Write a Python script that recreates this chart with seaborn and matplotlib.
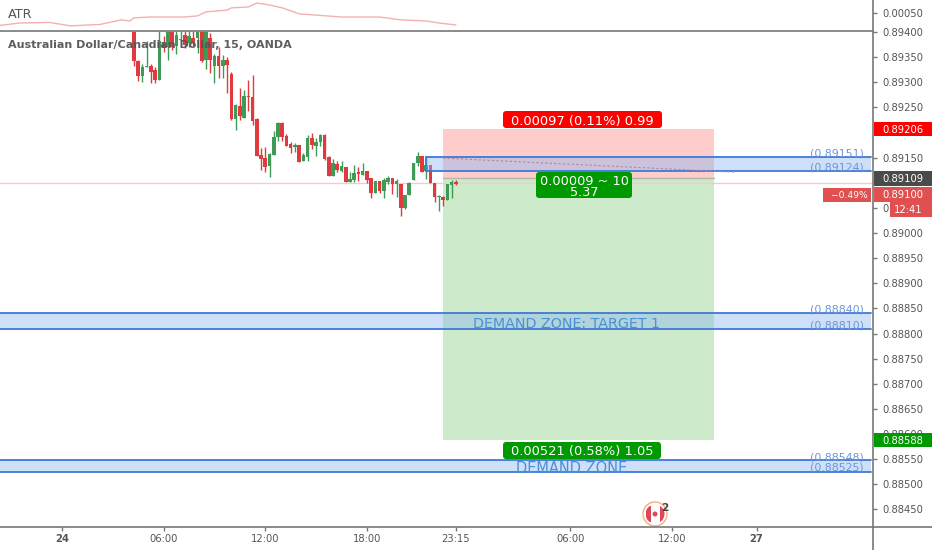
import pandas as pd
import numpy as np
import matplotlib
matplotlib.use('Agg')
import matplotlib.pyplot as plt
from matplotlib.patches import FancyBboxPatch, Rectangle, Circle
import seaborn as sns

# velas de 15 min, x = numero de vela desde las 00:00 del dia 24
first_bar = 17
opens = [89410, 89342, 89312, 89330, 89332, 89324, 89304, 89378, 89370, 89410, 89372, 89384, 89394, 89378, 89388, 89388,
         89410, 89344, 89388, 89332, 89352, 89332, 89344, 89316, 89227, 89253, 89229, 89272, 89270, 89227, 89155, 89149,
         89133, 89155, 89191, 89219, 89193, 89177, 89171, 89175, 89143, 89151, 89189, 89173, 89181, 89195, 89151, 89113,
         89137, 89123, 89131, 89101, 89105, 89121, 89115, 89123, 89109, 89080, 89103, 89083, 89101, 89109, 89097, 89097,
         89050, 89076, 89105, 89139, 89153, 89123, 89135, 89099, 89072, 89072, 89066, 89095, 89101]
highs = [89410, 89344, 89336, 89382, 89336, 89330, 89410, 89392, 89410, 89410, 89404, 89410, 89410, 89410, 89410, 89410,
         89410, 89410, 89398, 89356, 89370, 89354, 89350, 89320, 89257, 89288, 89284, 89304, 89314, 89229, 89169, 89171,
         89159, 89203, 89221, 89221, 89197, 89181, 89179, 89175, 89159, 89195, 89199, 89189, 89197, 89197, 89153, 89147,
         89143, 89143, 89131, 89121, 89135, 89131, 89139, 89123, 89109, 89103, 89103, 89109, 89113, 89109, 89107, 89097,
         89076, 89101, 89139, 89161, 89153, 89151, 89135, 89099, 89076, 89074, 89097, 89105, 89105]
lows = [89332, 89302, 89300, 89330, 89298, 89298, 89304, 89360, 89344, 89364, 89356, 89382, 89368, 89370, 89372, 89358,
        89340, 89326, 89318, 89298, 89308, 89308, 89278, 89225, 89205, 89225, 89229, 89243, 89215, 89153, 89125, 89121,
        89111, 89155, 89183, 89183, 89173, 89159, 89161, 89141, 89143, 89143, 89167, 89153, 89173, 89145, 89113, 89113,
        89121, 89121, 89101, 89101, 89101, 89103, 89115, 89099, 89070, 89080, 89080, 89070, 89097, 89078, 89072, 89034,
        89048, 89076, 89105, 89133, 89121, 89107, 89099, 89062, 89044, 89054, 89066, 89070, 89095]
closes = [89342, 89312, 89330, 89332, 89320, 89304, 89382, 89368, 89410, 89370, 89394, 89386, 89374, 89392, 89378, 89410,
          89342, 89410, 89344, 89352, 89332, 89344, 89334, 89227, 89255, 89233, 89272, 89270, 89223, 89153, 89147, 89131,
          89157, 89191, 89219, 89191, 89173, 89169, 89175, 89141, 89155, 89189, 89175, 89181, 89195, 89147, 89113, 89139,
          89125, 89133, 89101, 89107, 89119, 89117, 89123, 89105, 89080, 89103, 89083, 89105, 89109, 89097, 89103, 89050,
          89076, 89099, 89139, 89153, 89121, 89135, 89099, 89072, 89074, 89066, 89097, 89101, 89097]

# ATR
atr_bars = [-15, -10, -3, 2, 9, 14, 16, 17, 21, 29, 32, 34, 39, 40, 44, 46, 49, 52, 56, 66, 75, 80, 86, 89, 93]
atr_vals = [.000456, .000465, .000467, .000455, .00046, .000476, .000472, .000483, .000486, .000486, .00049, .000504,
            .00051, .000518, .000521, .000535, .000528, .000518, .000497, .000486, .000486, .000476, .000472, .000465,
            .000458]

# eje de tiempo y precios
time_ticks = [0, 24, 48, 72, 93, 120, 144, 164]
time_labels = ['24', '06:00', '12:00', '18:00', '23:15', '06:00', '12:00', '27']
price_ticks = [0.884 + 0.0005 * n for n in range(1, 21)]
# las que tapan las etiquetas de precio en el original
hidden_ticks = ['0.89100', '0.89200']

# zonas y posicion corta
zones = [(0.89151, 0.89124, 86), (0.88840, 0.88810, -15), (0.88548, 0.88525, -15)]
entry = 0.89109
stop = 0.89206
target = 0.88588
last_price = 0.89100
pos_start, pos_end = 90, 154
projection_bars = [90, 159]
projection_vals = [0.89149, 0.89121]

W, H = 932, 550
BAR = 4.235
AXIS_X = 873
X0 = 62
BLUE = '#3f78d8'
BLUE_TXT = '#6f94dc'
GREY = '#555555'
RED = '#e0393e'
GREEN = '#3d9b57'


def price_y(price):
    return 233 + (0.89 - price) * 50270


sns.set_theme(style='white')
plt.rcParams['font.family'] = ['DejaVu Sans']

fig = plt.figure(figsize=(W / 100, H / 100), dpi=100)
left, right = 0, AXIS_X / W
xlim = ((0 - X0) / BAR, (AXIS_X - X0) / BAR)

# panel ATR
ax_atr = fig.add_axes([left, 1 - 30.5 / H, right, 30.5 / H])
sns.lineplot(x=atr_bars, y=atr_vals, color='#f4b0b0', linewidth=1, ax=ax_atr)
ax_atr.set_xlim(xlim)
ax_atr.set_ylim(.0005 - 17.5 * 3.5e-6, .0005 + 13 * 3.5e-6)
ax_atr.yaxis.tick_right()
ax_atr.set_yticks([0.0005])
ax_atr.set_yticklabels(['0.00050'], fontsize=7.2, color=GREY)
ax_atr.set_xticks([])

# panel principal
ax = fig.add_axes([left, 1 - 527 / H, right, (527 - 30.5) / H])
ax.set_xlim(xlim)
ax.set_ylim(0.89 - (527 - 233) / 50270, 0.89 + (233 - 30.5) / 50270)

candles = pd.DataFrame({'bar': range(first_bar, first_bar + len(opens)),
                        'open': np.array(opens) / 1e5, 'high': np.array(highs) / 1e5,
                        'low': np.array(lows) / 1e5, 'close': np.array(closes) / 1e5})
candles['color'] = np.where(candles['close'] >= candles['open'], GREEN, RED)

# zona de riesgo / beneficio
ax.add_patch(Rectangle((pos_start, entry), pos_end - pos_start, stop - entry, color='#ffcccc', lw=0, zorder=1))
ax.add_patch(Rectangle((pos_start, target), pos_end - pos_start, entry - target, color='#cdeacb', lw=0, zorder=1))
ax.plot([pos_start, pos_end], [entry, entry], color='#b5b5a5', lw=1, zorder=2)
ax.axhline(last_price, color='#f6c8cf', lw=1, zorder=2)

ax.vlines(candles['bar'], candles['low'], candles['high'], colors=candles['color'], lw=1, zorder=3)
ax.bar(candles['bar'], (candles['close'] - candles['open']).abs().clip(lower=0.00002),
       bottom=candles[['open', 'close']].min(axis=1), width=0.85, color=candles['color'], lw=0, zorder=4)

# zonas azules
end = (871 - X0) / BAR
for top, bottom, start in zones:
    ax.add_patch(Rectangle((start, bottom), end - start, top - bottom,
                           facecolor='#8ab6f0', alpha=0.42, lw=0, zorder=5))
    ax.plot([start, end], [top, top], color=BLUE, lw=1.3, zorder=6)
    ax.plot([start, end], [bottom, bottom], color=BLUE, lw=1.3, zorder=6)
    ax.plot([start, start], [bottom, top], color=BLUE, lw=1.3, zorder=6)
ax.plot(projection_bars, projection_vals, color='#a88aa0', lw=0.8, ls=(0, (2, 2)), zorder=6)

ax.yaxis.tick_right()
ax.set_yticks(price_ticks)
tick_text = []
for p in price_ticks:
    s = f'{p:.5f}'
    if s in hidden_ticks:
        s = ''
    elif s == '0.89050':
        s = '0'  # el resto queda tapado por la cuenta atras
    tick_text.append(s)
ax.set_yticklabels(tick_text, fontsize=7.2, color=GREY)
ax.set_xticks(time_ticks)
ax.set_xticklabels(time_labels, fontsize=7.2, color=GREY)
for lab in ax.get_xticklabels():
    if lab.get_text() in ('24', '27'):
        lab.set_fontweight('bold')

for a in (ax, ax_atr):
    sns.despine(ax=a, left=True, top=True, right=True, bottom=True)
    a.tick_params(axis='y', length=3, width=1, color='#777777', pad=4, right=True)
ax.tick_params(axis='x', length=3, width=1, color='#777777', pad=2, bottom=True)

# capa de textos y etiquetas en pixeles
ov = fig.add_axes([0, 0, 1, 1], zorder=10)
ov.set_xlim(0, W)
ov.set_ylim(H, 0)
ov.axis('off')

ov.plot([0, AXIS_X], [30.5, 30.5], color='#8a8a8a', lw=1.4)
ov.plot([0, W], [527, 527], color='#777777', lw=1.2)
ov.plot([AXIS_X, AXIS_X], [0, H], color='#777777', lw=1.2)

ov.text(8, 14.5, 'ATR', fontsize=9.2, color=GREY, va='center')
ov.text(8, 45, 'Australian Dollar/Canadian Dollar, 15, OANDA', fontsize=8, fontweight='bold',
        color=GREY, va='center', alpha=0.95)


def badge(x0, x1, yc, h, txt, bg, rounded=False, size=7.2, tx=None):
    if rounded:
        ov.add_patch(FancyBboxPatch((x0 + 2, yc - h / 2 + 2), x1 - x0 - 4, h - 4,
                                    boxstyle='round,pad=2,rounding_size=3', fc=bg, ec='none'))
    else:
        ov.add_patch(Rectangle((x0, yc - h / 2), x1 - x0, h, fc=bg, ec='none'))
    ov.text((x0 + x1) / 2 if tx is None else tx, yc, txt, color='white', fontsize=size, ha='center',
            va='center_baseline')


badge(AXIS_X + 0.5, W, price_y(stop), 14, f'{stop:.5f}', '#ff0000', tx=903)
badge(AXIS_X + 0.5, W, price_y(entry), 15, f'{entry:.5f}', '#4a4a4a', tx=903)
badge(AXIS_X + 0.5, W, 194, 15, f'{last_price:.5f}', '#e05050', tx=903)
badge(823, 871, 195, 14, '\u22120.49%', '#e05050', size=6.6)
ov.texts[-1].set_x(849)
badge(890, W, 209, 15, '12:41', '#e05050', tx=908)
badge(AXIS_X + 0.5, W, price_y(target), 14, f'{target:.5f}', '#009900', tx=903)

badge(503, 662, 119.5, 17, '0.00097 (0.11%) 0.99', '#ff0000', rounded=True, size=9.4)
badge(536, 632, 185, 26, '0.00009 ~ 10', '#009900', rounded=True, size=9.3)
ov.texts[-1].set_y(180)
ov.text(584, 190.7, '5.37', color='white', fontsize=9.3, ha='center', va='center_baseline')
badge(503, 661, 450.5, 17, '0.00521 (0.58%) 1.05', '#009900', rounded=True, size=9.4)

# etiquetas de las zonas
for label, yc in zip(['(0.89151)', '(0.89124)', '(0.88840)', '(0.88810)', '(0.88548)', '(0.88525)'],
                     [152, 166, 309, 324, 456, 467]):
    ov.text(864, yc, label, color=BLUE_TXT, fontsize=7.9, ha='right', va='center_baseline')
ov.text(567, 322, 'DEMAND ZONE: TARGET 1', color='#4a90d9', fontsize=10.3, ha='center', va='center_baseline')
ov.text(572, 467, 'DEMAND ZONE', color='#4a90d9', fontsize=10.5, ha='center', va='center_baseline')

# icono de evento (Canada)
cx, cy = 655, 514
ring = Circle((cx, cy), 12, fc='white', ec='#f4b27a', lw=1)
ov.add_patch(ring)
flag_clip = Circle((cx, cy), 9.5, transform=ov.transData)
for bx in (cx - 9, cx + 5):
    ov.add_patch(Rectangle((bx, cy - 8), 4.5, 16, fc='#e0455a', ec='none', clip_path=flag_clip))
ov.add_patch(Circle((cx, cy), 2.5, fc='#e0455a', ec='none'))
ov.text(665, 508, '2', fontsize=7.5, fontweight='bold', color='#444444', ha='center', va='center')

fig.savefig('out.png', dpi=100)
